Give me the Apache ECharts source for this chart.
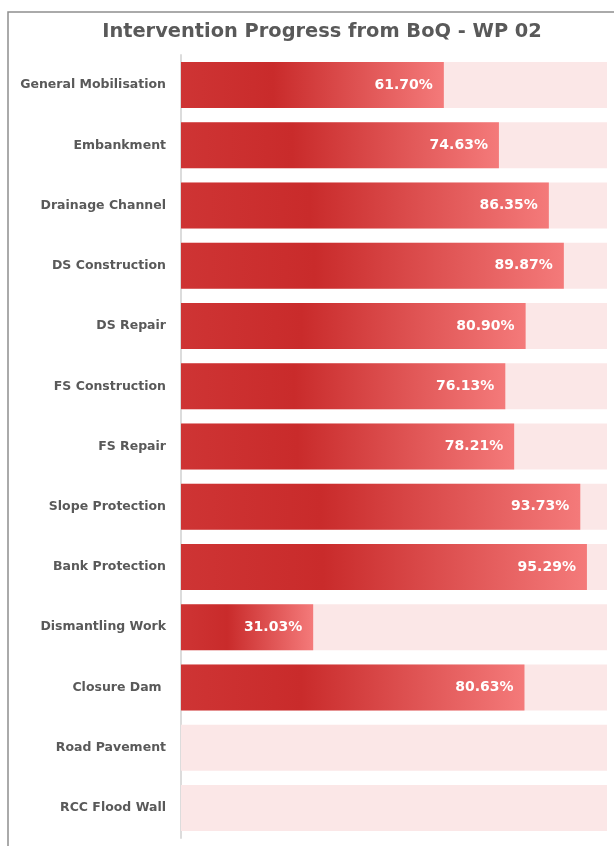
<!DOCTYPE html>
<html>
<head>
<meta charset="utf-8">
<script src="https://cdn.jsdelivr.net/npm/echarts@6/dist/echarts.min.js"></script>
<style>
  html, body { margin: 0; padding: 0; background: #fff; }
  #chart { width: 614px; height: 846px; }
</style>
</head>
<body>
<div id="chart"></div>
<script>
// categories top to bottom
var categories = [
  "General Mobilisation",
  "Embankment",
  "Drainage Channel",
  "DS Construction",
  "DS Repair",
  "FS Construction",
  "FS Repair",
  "Slope Protection",
  "Bank Protection",
  "Dismantling Work",
  "Closure Dam ",
  "Road Pavement",
  "RCC Flood Wall"
];
// progress in %
var progress = [61.70, 74.63, 86.35, 89.87, 80.90, 76.13, 78.21, 93.73, 95.29, 31.03, 80.63, 0, 0];
var full = [100, 100, 100, 100, 100, 100, 100, 100, 100, 100, 100, 100, 100];

var FONT = "DejaVu Sans, Verdana, sans-serif";

var chart = echarts.init(document.getElementById("chart"));

var option = {
  animation: false,
  title: {
    text: "Intervention Progress from BoQ - WP 02",
    left: 317,
    textAlign: "center",
    top: 17,
    textStyle: {
      color: "#595959",
      fontSize: 19.4,
      fontWeight: "bold",
      fontFamily: FONT
    }
  },
  // frame around chart
  graphic: [
    {
      type: "rect",
      shape: { x: 8, y: 12, width: 700, height: 900 },
      style: { fill: "none", stroke: "#8f8f8f", lineWidth: 1.5 },
      silent: true
    }
  ],
  grid: {
    left: 181,
    right: 7,
    top: 55,
    bottom: 8,
    containLabel: false
  },
  xAxis: {
    type: "value",
    min: 0,
    max: 100,
    show: false
  },
  yAxis: {
    type: "category",
    data: categories,
    inverse: true,
    axisLine: {
      show: true,
      lineStyle: { color: "#dcdcdc", width: 2 }
    },
    axisTick: { show: false },
    axisLabel: {
      color: "#595959",
      fontSize: 12.5,
      fontWeight: "bold",
      fontFamily: FONT,
      margin: 15
    }
  },
  series: [
    // 背景条
    {
      type: "bar",
      data: full,
      barWidth: 46,
      barGap: "-100%",
      silent: true,
      itemStyle: { color: "#fbe7e7" },
      z: 1
    },
    // 进度条
    {
      type: "bar",
      data: progress,
      barWidth: 46,
      z: 2,
      itemStyle: {
        color: {
          type: "linear",
          x: 0, y: 0, x2: 1, y2: 0,
          colorStops: [
            { offset: 0, color: "#ce3434" },
            { offset: 0.35, color: "#c92b2b" },
            { offset: 1, color: "#f47a7a" }
          ]
        }
      },
      label: {
        show: true,
        position: "insideRight",
        offset: [-6, 0],
        color: "#fff",
        fontSize: 14,
        fontWeight: "bold",
        fontFamily: FONT,
        formatter: function (p) {
          return p.value > 0 ? p.value.toFixed(2) + "%" : "";
        }
      }
    }
  ]
};

chart.setOption(option);
</script>
</body>
</html>
